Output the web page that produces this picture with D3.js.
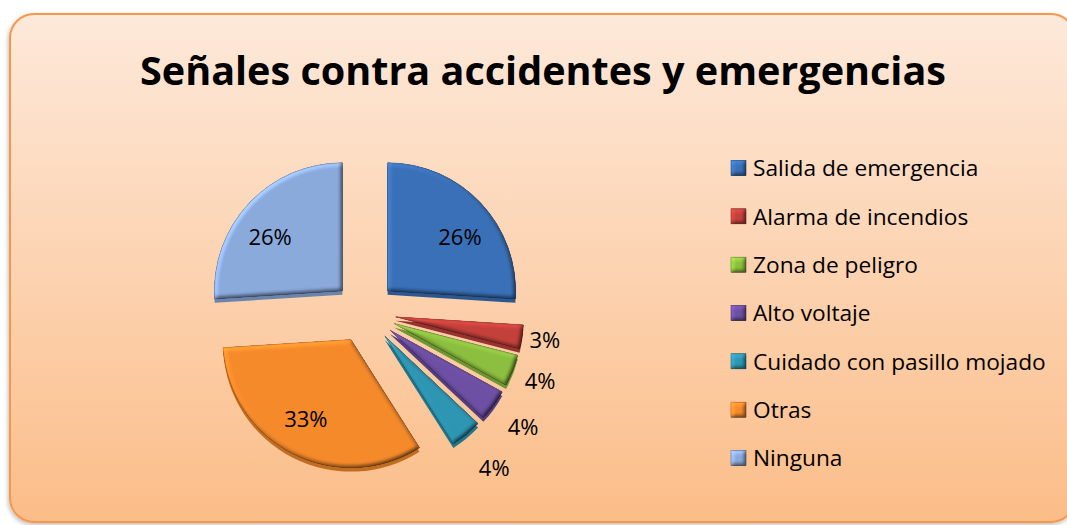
<!doctype html>
<html>
<head>
<meta charset="utf-8">
<title>Señales contra accidentes y emergencias</title>
<script src="https://cdnjs.cloudflare.com/ajax/libs/d3/7.8.5/d3.min.js"></script>
<style>
  body { margin: 0; background: #fff; }
  text { font-family: "Open Sans", "Noto Sans", sans-serif; fill: #000; }
</style>
</head>
<body>
<div id="chart"></div>
<script>
// datos
const categories = ["Salida de emergencia", "Alarma de incendios", "Zona de peligro",
  "Alto voltaje", "Cuidado con pasillo mojado", "Otras", "Ninguna"];
const values = [26, 3, 4, 4, 4, 33, 26];
const colors = ["#3a70b8", "#c4403b", "#8cbf3f", "#6d4fa3", "#2e96b3", "#f68a2b", "#8aaadd"];
const title = "Señales contra accidentes y emergencias";

const W = 1067, H = 525;
const cx = 365, cy = 312, R = 128, explode = 31;

const svg = d3.select('#chart').append('svg')
  .attr('width', W).attr('height', H);

const defs = svg.append('defs');

// fondo degradado
const bg = defs.append('linearGradient').attr('id', 'bg')
  .attr('x1', 0).attr('y1', 0).attr('x2', 0).attr('y2', 1);
bg.append('stop').attr('offset', '0%').attr('stop-color', '#fde9da');
bg.append('stop').attr('offset', '100%').attr('stop-color', '#fbbd88');

// sombra de la caja
const sh = defs.append('filter').attr('id', 'boxshadow')
  .attr('x', '-5%').attr('y', '-5%').attr('width', '110%').attr('height', '110%');
sh.append('feDropShadow').attr('dx', -1).attr('dy', 2).attr('stdDeviation', 2)
  .attr('flood-color', '#000').attr('flood-opacity', 0.25);

// bisel 3D
const bev = defs.append('filter').attr('id', 'bevel')
  .attr('x', '-10%').attr('y', '-10%').attr('width', '120%').attr('height', '120%')
  .attr('color-interpolation-filters', 'sRGB');
bev.append('feGaussianBlur').attr('in', 'SourceAlpha').attr('stdDeviation', 2.2).attr('result', 'blur');
bev.append('feDiffuseLighting').attr('in', 'blur').attr('surfaceScale', 2.5)
  .attr('diffuseConstant', 0.707).attr('lighting-color', '#fff').attr('result', 'light')
  .append('feDistantLight').attr('azimuth', 225).attr('elevation', 45);
bev.append('feComposite').attr('in', 'SourceGraphic').attr('in2', 'light')
  .attr('operator', 'arithmetic').attr('k1', 1.2).attr('k2', 0.4).attr('k3', 0).attr('k4', 0)
  .attr('result', 'lit');
bev.append('feComposite').attr('in', 'lit').attr('in2', 'SourceAlpha').attr('operator', 'in');

// caja
svg.append('rect')
  .attr('x', 10).attr('y', 14).attr('width', 1065).attr('height', 508).attr('rx', 24)
  .attr('fill', 'url(#bg)').attr('stroke', '#f8964a').attr('stroke-width', 2)
  .attr('filter', 'url(#boxshadow)');

// titulo
const t = svg.append('text')
  .attr('x', 543).attr('y', 85).attr('text-anchor', 'middle')
  .style('font-size', '40px').style('font-weight', 700)
  .text(title);
if (t.node().getComputedTextLength() > 806) {
  t.attr('textLength', 806).attr('lengthAdjust', 'spacingAndGlyphs');
}

// pastel
const pie = d3.pie().sort(null).startAngle(0).endAngle(2 * Math.PI);
const arcs = pie(values);
const arc = d3.arc().innerRadius(0).outerRadius(R);
const total = d3.sum(values);

const mid = d => (d.startAngle + d.endAngle) / 2;
function off(d, k) {
  const m = mid(d);
  return [Math.sin(m) * k, -Math.cos(m) * k];
}

const g = svg.append('g').attr('transform', `translate(${cx},${cy})`);

// grosor (lado)
g.selectAll('path.side').data(arcs).join('path')
  .attr('class', 'side')
  .attr('d', arc)
  .attr('transform', d => { const o = off(d, explode); return `translate(${o[0]},${o[1] + 4})`; })
  .attr('fill', (d, i) => d3.color(colors[i]).darker(0.7));

// caras
g.selectAll('path.face').data(arcs).join('path')
  .attr('class', 'face')
  .attr('d', arc)
  .attr('transform', d => { const o = off(d, explode); return `translate(${o[0]},${o[1]})`; })
  .attr('fill', (d, i) => colors[i])
  .attr('stroke', (d, i) => d3.color(colors[i]).darker(0.6))
  .attr('stroke-width', 0.8)
  .attr('filter', 'url(#bevel)');

// etiquetas
g.selectAll('text.pct').data(arcs).join('text')
  .attr('class', 'pct')
  .attr('text-anchor', 'middle')
  .attr('dy', '0.35em')
  .style('font-size', '22px')
  .attr('transform', d => {
    const big = (d.endAngle - d.startAngle) > 0.5;
    let o;
    if (big) {
      o = off(d, explode + R * 0.7);
      o = [o[0] * 1.08, o[1] < 0 ? o[1] * 0.91 : o[1]];
    } else {
      // etiquetas fuera del pastel, algo más lejos hacia abajo
      const deg = mid(d) * 180 / Math.PI;
      o = off(d, 182 + (deg - 99) * 0.5);
    }
    return `translate(${o[0]},${o[1]})`;
  })
  .text(d => Math.round(d.value / total * 100) + '%');

// leyenda
const ly = d3.scalePoint().domain(categories).range([168, 458]);
const leg = svg.append('g').selectAll('g').data(categories).join('g')
  .attr('transform', d => `translate(731,${ly(d)})`);
leg.append('rect')
  .attr('x', 0).attr('y', -7.5).attr('width', 15).attr('height', 15)
  .attr('fill', (d, i) => colors[i])
  .attr('stroke', (d, i) => d3.color(colors[i]).darker(0.8))
  .attr('stroke-width', 0.8)
  .attr('filter', 'url(#bevel)');
leg.append('text')
  .attr('x', 22).attr('dy', '0.36em')
  .style('font-size', '22.7px')
  .text(d => d);
</script>
</body>
</html>
